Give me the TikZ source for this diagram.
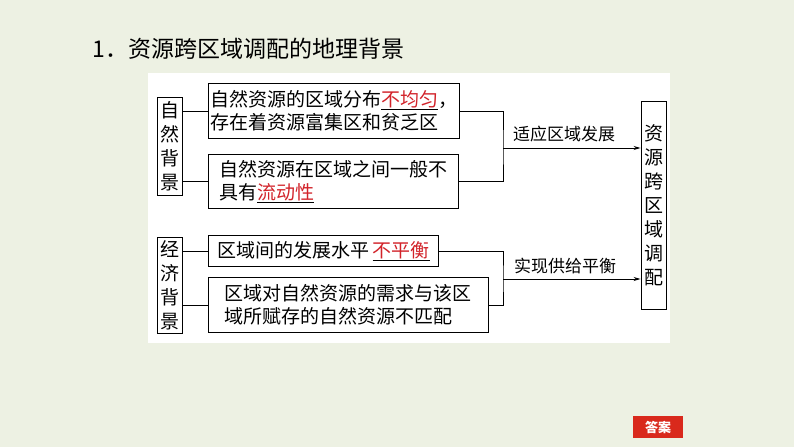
\documentclass[tikz,border=0pt]{standalone}
\usepackage{fontspec}
\setmainfont{Noto Sans CJK SC}
\usepackage{xcolor}
\usetikzlibrary{arrows.meta}
\definecolor{pagebg}{HTML}{EDF1E3}
\definecolor{keyred}{HTML}{D2232A}
\definecolor{btnred}{HTML}{D9291C}
\newcommand{\keyword}[1]{\underline{\textcolor{keyred}{#1}}}
\tikzset{
  sidebox/.style={draw, line width=0.9pt, inner sep=3pt, text width=19pt, align=center, minimum width=25pt, font=\fontsize{19}{24}\selectfont},
  factbox/.style={draw, line width=0.9pt, anchor=north west, inner xsep=2pt, inner ysep=2pt, align=left, font=\fontsize{19}{23}\selectfont},
  link/.style={line width=0.9pt},
  lbl/.style={font=\fontsize{17}{20}\selectfont}
}

\begin{document}
\begin{tikzpicture}[x=1pt, y=-1pt]
\fill[pagebg] (0,0) rectangle (794,447);
\fill[white] (148,73) rectangle (670,343);
\node[anchor=west, font=\fontsize{23}{26}\selectfont] (title) at (89,49) {1．资源跨区域调配的地理背景};

% natural background
\node[sidebox, minimum height=98pt] (nat) at (169.5,146) {自\\然\\背\\景};
\node[factbox, minimum width=250pt, minimum height=55pt] (uneven) at (208,83) {自然资源的区域分布\keyword{不均匀}，\\存在着资源富集区和贫乏区};
\node[factbox, minimum width=250pt, minimum height=54pt] (immobile) at (208,154) {自然资源在区域之间一般不\\具有\keyword{流动性}};

% economic background
\node[sidebox, minimum height=96pt] (eco) at (169.5,285) {经\\济\\背\\景};
\node[factbox, minimum width=230pt, minimum height=31pt] (gap) at (208,235) {区域间的发展水平\,\keyword{不平衡}};
\node[factbox, minimum width=280pt, minimum height=55pt] (mismatch) at (208,277) {区域对自然资源的需求与该区\\域所赋存的自然资源不匹配};

% result
\node[sidebox, minimum height=208pt] (transfer) at (653.5,205) {资\\源\\跨\\区\\域\\调\\配};

\coordinate (jx) at (503,0);
\coordinate (upmid) at (503,148);
\coordinate (lowmid) at (503,279);

\draw[link] (uneven.west) -- (uneven.west -| nat.east);
\draw[link] (immobile.west) -- (immobile.west -| nat.east);
\draw[link] (gap.west) -- (gap.west -| eco.east);
\draw[link] (mismatch.west) -- (mismatch.west -| eco.east);

\draw[link] (uneven.east) -| (upmid) |- (immobile.east);
\draw[link] (gap.east) -| (lowmid) |- (mismatch.east);
\draw[link, -{Stealth[length=7pt, width=4pt]}] (upmid) -- (upmid -| transfer.west);
\draw[link, -{Stealth[length=7pt, width=4pt]}] (lowmid) -- (lowmid -| transfer.west);

\node[lbl] (adapt) at (564,134) {适应区域发展};
\node[lbl] (balance) at (565,266) {实现供给平衡};

\node[fill=btnred, text=white, font=\bfseries\fontsize{13}{13}\selectfont, minimum width=50pt, minimum height=22pt, inner sep=0pt] (answer) at (658,427) {答案};
\end{tikzpicture}
\end{document}
